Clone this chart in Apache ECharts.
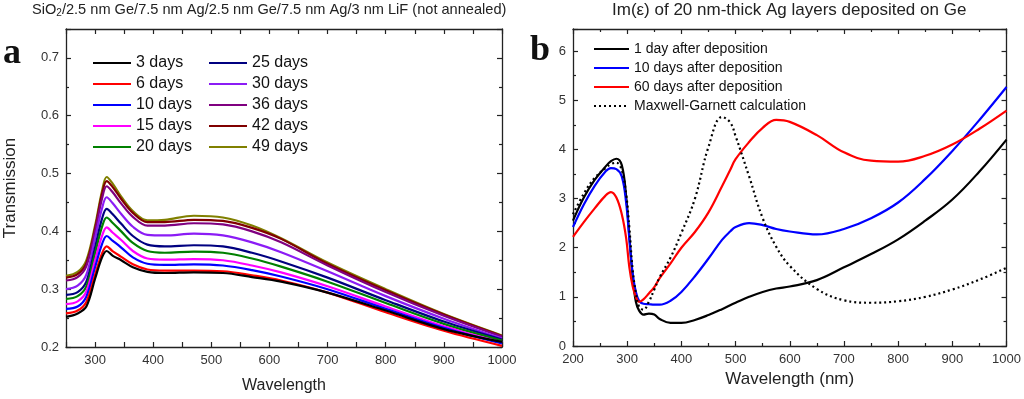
<!DOCTYPE html>
<html>
<head>
<meta charset="utf-8">
<script src="https://cdn.jsdelivr.net/npm/echarts@6/dist/echarts.min.js"></script>
<style>
html,body{margin:0;padding:0;background:#fff}
#chart{width:1024px;height:399px}
</style>
</head>
<body>
<div id="chart"></div>
<script>
// panel a - transmission vs wavelength
var wlA = [250, 270, 285, 300, 312, 320, 330, 345, 365, 390, 420, 470, 520, 570, 620, 700, 800, 900, 1000];
var d3  = [0.252, 0.258, 0.270, 0.318, 0.355, 0.366, 0.358, 0.350, 0.338, 0.330, 0.328, 0.329, 0.328, 0.321, 0.313, 0.294, 0.263, 0.231, 0.209];
var d6  = [0.258, 0.263, 0.278, 0.325, 0.362, 0.374, 0.366, 0.356, 0.343, 0.334, 0.332, 0.332, 0.331, 0.324, 0.315, 0.294, 0.260, 0.228, 0.202];
var d10 = [0.266, 0.270, 0.287, 0.338, 0.378, 0.392, 0.384, 0.372, 0.355, 0.344, 0.342, 0.343, 0.341, 0.333, 0.322, 0.300, 0.266, 0.233, 0.206];
var d15 = [0.274, 0.279, 0.296, 0.350, 0.392, 0.407, 0.398, 0.385, 0.366, 0.353, 0.351, 0.352, 0.350, 0.341, 0.329, 0.305, 0.270, 0.236, 0.208];
var d20 = [0.283, 0.288, 0.305, 0.362, 0.408, 0.424, 0.415, 0.400, 0.380, 0.366, 0.363, 0.365, 0.363, 0.353, 0.339, 0.313, 0.276, 0.240, 0.211];
var d25 = [0.290, 0.295, 0.313, 0.372, 0.422, 0.439, 0.430, 0.413, 0.392, 0.377, 0.374, 0.376, 0.374, 0.363, 0.348, 0.320, 0.281, 0.244, 0.213];
var d30 = [0.300, 0.306, 0.325, 0.388, 0.440, 0.459, 0.449, 0.430, 0.408, 0.394, 0.393, 0.396, 0.393, 0.381, 0.364, 0.331, 0.288, 0.249, 0.215];
var d36 = [0.315, 0.321, 0.340, 0.400, 0.457, 0.478, 0.468, 0.448, 0.425, 0.410, 0.410, 0.414, 0.412, 0.400, 0.381, 0.341, 0.295, 0.254, 0.218];
var d42 = [0.320, 0.326, 0.345, 0.405, 0.465, 0.487, 0.477, 0.456, 0.432, 0.416, 0.416, 0.420, 0.418, 0.406, 0.387, 0.344, 0.298, 0.256, 0.219];
var d49 = [0.323, 0.330, 0.350, 0.410, 0.470, 0.494, 0.483, 0.460, 0.435, 0.419, 0.420, 0.427, 0.424, 0.410, 0.388, 0.346, 0.300, 0.257, 0.220];
var namesA = ['3 days', '6 days', '10 days', '15 days', '20 days', '25 days', '30 days', '36 days', '42 days', '49 days'];
var colorsA = ['#000000', '#ff0000', '#0000ff', '#ff00ff', '#008000', '#000080', '#8b1cf5', '#800080', '#800000', '#808000'];

// panel b - Im(eps)
var wlB = [200, 220, 240, 260, 270, 280, 290, 298, 304, 310, 316, 322, 330, 340, 350, 360, 380, 400, 425, 450, 475, 490, 500, 525, 550, 575, 600, 650, 700, 750, 800, 850, 900, 950, 1000];
var day1  = [2.55, 3.02, 3.38, 3.65, 3.76, 3.81, 3.68, 3.05, 2.24, 1.42, 0.90, 0.72, 0.64, 0.66, 0.64, 0.55, 0.47, 0.47, 0.53, 0.63, 0.75, 0.83, 0.88, 1.00, 1.10, 1.17, 1.21, 1.34, 1.60, 1.87, 2.17, 2.55, 2.98, 3.55, 4.20];
var day10 = [2.42, 2.88, 3.26, 3.55, 3.62, 3.60, 3.45, 2.92, 2.17, 1.49, 1.10, 0.92, 0.86, 0.85, 0.84, 0.84, 0.92, 1.10, 1.42, 1.78, 2.16, 2.33, 2.42, 2.50, 2.46, 2.38, 2.33, 2.27, 2.38, 2.60, 2.92, 3.40, 3.97, 4.60, 5.27];
var day60 = [2.22, 2.52, 2.80, 3.06, 3.13, 3.02, 2.68, 2.20, 1.60, 1.22, 1.00, 0.90, 0.95, 1.07, 1.20, 1.38, 1.68, 2.00, 2.32, 2.72, 3.25, 3.58, 3.80, 4.15, 4.44, 4.60, 4.56, 4.29, 3.94, 3.77, 3.75, 3.87, 4.10, 4.42, 4.79];
var mgCalc = [2.68, 3.10, 3.42, 3.62, 3.70, 3.73, 3.58, 3.10, 2.40, 1.56, 1.08, 0.80, 0.74, 0.90, 1.15, 1.40, 1.80, 2.30, 3.00, 4.05, 4.66, 4.55, 4.27, 3.45, 2.60, 2.02, 1.63, 1.16, 0.93, 0.88, 0.91, 1.00, 1.15, 1.35, 1.59];
var namesB = ['1 day after deposition', '10 days after deposition', '60 days after deposition', 'Maxwell-Garnett calculation'];

var FONT = 'Liberation Sans, Arial, sans-serif';
var chart = echarts.init(document.getElementById('chart'));

function pairs(xs, ys) {
	var out = [];
	for (var i = 0; i < xs.length; i++) out.push([xs[i], ys[i]]);
	return out;
}

//坐标轴
function axis(grid, pos, min, max, interval, minor, labels, fmt) {
	var a = {
		type: 'value', gridIndex: grid, position: pos,
		min: min, max: max, interval: interval,
		axisLine: { show: true, onZero: false, lineStyle: { color: '#222', width: 1.3 } },
		axisTick: { show: true, inside: true, length: 5, lineStyle: { color: '#222', width: 1.2 } },
		minorTick: { show: minor, splitNumber: 2, length: 3, lineStyle: { color: '#222', width: 1.2 } },
		splitLine: { show: false },
		axisLabel: { show: labels, color: '#333', fontSize: 13, fontFamily: FONT, margin: 7, showMaxLabel: false, formatter: fmt }
	};
	return a;
}

var xAxes = [
	axis(0, 'bottom', 250, 1000, 50, false, true, function (v) { return v % 100 === 0 ? v : ''; }),
	axis(0, 'top', 250, 1000, 50, false, false),
	axis(1, 'bottom', 200, 1000, 100, true, true, function (v) { return v; }),
	axis(1, 'top', 200, 1000, 100, true, false)
];
xAxes[0].axisLabel.showMaxLabel = true;
xAxes[2].axisLabel.showMaxLabel = true;
xAxes[0].name = 'Wavelength';
xAxes[0].nameLocation = 'middle';
xAxes[0].nameGap = 31;
xAxes[0].nameTextStyle = { fontSize: 16, color: '#222', fontFamily: FONT };
xAxes[2].name = 'Wavelength (nm)';
xAxes[2].nameLocation = 'middle';
xAxes[2].nameGap = 23;
xAxes[2].nameTextStyle = { fontSize: 17, color: '#222', fontFamily: FONT };

var yAxes = [
	axis(0, 'left', 0.2, 0.75, 0.1, true, true, function (v) { return v.toFixed(1); }),
	axis(0, 'right', 0.2, 0.75, 0.1, true, false),
	axis(1, 'left', 0, 6.45, 1, true, true, function (v) { return v; }),
	axis(1, 'right', 0, 6.45, 1, true, false)
];
yAxes[0].name = 'Transmission';
yAxes[0].nameLocation = 'middle';
yAxes[0].nameGap = 47;
yAxes[0].nameTextStyle = { fontSize: 17, color: '#222', fontFamily: FONT };

var series = [];
for (var i = 0; i < namesA.length; i++) {
	series.push({
		name: namesA[i], type: 'line', xAxisIndex: 0, yAxisIndex: 0,
		data: pairs(wlA, [d3, d6, d10, d15, d20, d25, d30, d36, d42, d49][i]),
		smooth: 0.35, symbol: 'none', color: colorsA[i],
		lineStyle: { width: 2.2, color: colorsA[i] }, z: 10 - i
	});
}
var dataB = [day1, day10, day60, mgCalc];
var colorsB = ['#000000', '#0000ff', '#ff0000', '#000000'];
for (var j = 0; j < namesB.length; j++) {
	series.push({
		name: namesB[j], type: 'line', xAxisIndex: 2, yAxisIndex: 2,
		data: pairs(wlB, dataB[j]),
		smooth: 0.4, symbol: 'none', color: colorsB[j],
		lineStyle: { width: 2.2, color: colorsB[j], type: j === 3 ? [2, 3] : 'solid' }
	});
}

var legTxt = { fontSize: 16, color: '#111', fontFamily: FONT, lineHeight: 16 };
var noDot = { opacity: 0 };
var option = {
	animation: false,
	backgroundColor: '#fff',
	grid: [
		{ left: 66, top: 29, width: 436, height: 319 },
		{ left: 573, top: 29, width: 435, height: 317 }
	],
	xAxis: xAxes,
	yAxis: yAxes,
	legend: [
		{ data: namesA.slice(0, 5), orient: 'vertical', left: 87, top: 50, itemWidth: 38, itemHeight: 16, itemGap: 5, itemStyle: noDot, textStyle: legTxt },
		{ data: namesA.slice(5), orient: 'vertical', left: 203, top: 50, itemWidth: 38, itemHeight: 16, itemGap: 5, itemStyle: noDot, textStyle: legTxt },
		{ data: namesB, orient: 'vertical', left: 588, top: 37, itemWidth: 35, itemHeight: 14, itemGap: 5, itemStyle: noDot,
		  textStyle: { fontSize: 14, color: '#111', fontFamily: FONT, lineHeight: 14 } }
	],
	graphic: [
		{ type: 'text', left: 32, top: 2, style: {
			text: '{n|SiO}{s|2}{n|/2.5 nm Ge/7.5 nm Ag/2.5 nm Ge/7.5 nm Ag/3 nm LiF (not annealed)}',
			rich: {
				n: { fontSize: 14.6, fontFamily: FONT, fill: '#222' },
				s: { fontSize: 10, fontFamily: FONT, fill: '#222', padding: [8, 0, 0, 0] }
			}
		} },
		{ type: 'text', left: 612, top: 2, style: { text: 'Im(\u03b5) of 20 nm-thick Ag layers deposited on Ge', fontSize: 17, fontFamily: FONT, fill: '#222' } },
		{ type: 'text', left: 3, top: 36, style: { text: 'a', fontSize: 36, fontWeight: 'bold', fontFamily: 'Liberation Serif, serif', fill: '#111' } },
		{ type: 'text', left: 530, top: 33, style: { text: 'b', fontSize: 36, fontWeight: 'bold', fontFamily: 'Liberation Serif, serif', fill: '#111' } }
	],
	series: series
};
chart.setOption(option);
</script>
</body>
</html>
